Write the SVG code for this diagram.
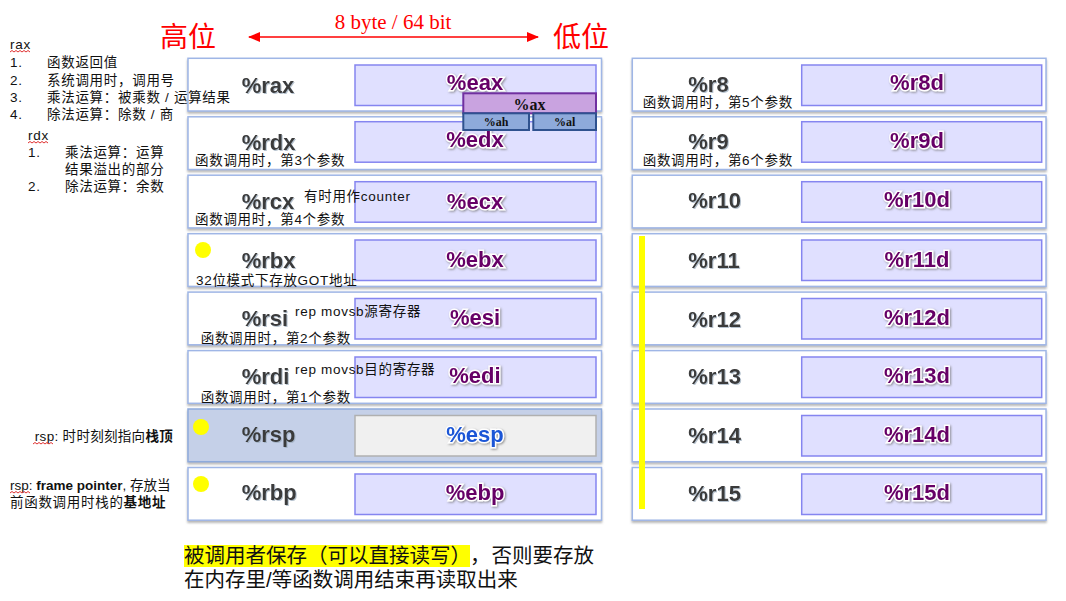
<svg xmlns="http://www.w3.org/2000/svg" width="1066" height="601" viewBox="0 0 1066 601">
<defs>
<filter id="sh" x="-5%" y="-20%" width="110%" height="150%"><feDropShadow dx="0" dy="2" stdDeviation="1" flood-color="#888" flood-opacity="0.6"/></filter>
<filter id="tsh" x="-10%" y="-20%" width="130%" height="160%"><feDropShadow dx="1" dy="1" stdDeviation="0.8" flood-color="#777" flood-opacity="0.8"/></filter>
<filter id="lsh" x="-10%" y="-20%" width="130%" height="160%"><feDropShadow dx="1" dy="1" stdDeviation="0.5" flood-color="#9ab" flood-opacity="0.7"/></filter>
<marker id="ah" viewBox="0 0 12 10" refX="11" refY="5" markerWidth="12" markerHeight="10" markerUnits="userSpaceOnUse" orient="auto-start-reverse"><path d="M0,0 L12,5 L0,10 Z" fill="#ff0000"/></marker>
<style>
.row{fill:#fff;stroke:#9fb6e6;stroke-width:1.5;filter:url(#sh)}
.rowsp{fill:#c5d0e8;stroke:#8eaadb;stroke-width:1.5;filter:url(#sh)}
.inner{fill:#e0e0ff;stroke:#8585f0;stroke-width:1.5}
.innersp{fill:#f0f0f0;stroke:#b0b0b0;stroke-width:1.5}
.reg{font-family:"Liberation Sans",Arial,sans-serif;font-weight:bold;font-size:22px;fill:#3a3a3a;filter:url(#lsh)}
.sub{font-family:"Liberation Sans",Arial,sans-serif;font-weight:bold;font-size:22px;fill:#660066;stroke:#fff;stroke-width:3;paint-order:stroke;text-anchor:middle;filter:url(#tsh)}
.note{font-family:"Liberation Sans","Noto Sans CJK SC",sans-serif;font-size:13.5px;fill:#111;letter-spacing:0.7px}
.red{fill:#ff0000}
.dot{fill:#ffff00}
.sq{fill:none;stroke:#e03030;stroke-width:1}
.big{font-family:"Liberation Sans","Noto Sans CJK SC",sans-serif;font-size:20.5px;fill:#111}
</style>
</defs>

<g id="header">
<text x="160" y="47" class="red" style="font-family:'Noto Sans CJK SC',sans-serif;font-size:28px">高位</text>
<text x="553" y="47" class="red" style="font-family:'Noto Sans CJK SC',sans-serif;font-size:28px">低位</text>
<text x="393" y="29" class="red" text-anchor="middle" style="font-family:'Liberation Serif',serif;font-size:21px">8 byte / 64 bit</text>
</g>

<g id="connectors">
<line x1="249" y1="37" x2="538" y2="37" stroke="#ff0000" stroke-width="1.5" marker-start="url(#ah)" marker-end="url(#ah)"/>
</g>

<g id="rax"><rect class="row" x="188" y="58.3" width="413.5" height="52.7"/><rect class="inner" x="355" y="65" width="241" height="40.5"/><text class="reg" x="241.7" y="93">%rax</text><text class="sub" x="475" y="90">%eax</text></g>
<g id="rdx"><rect class="row" x="188" y="116.8" width="413.5" height="52.7"/><rect class="inner" x="355" y="121.7" width="241" height="40.5"/><text class="reg" x="241.7" y="150">%rdx</text><text class="sub" x="475" y="147">%edx</text><text class="note" x="195" y="165">函数调用时，第3个参数</text></g>
<g id="rcx"><rect class="row" x="188" y="175.2" width="413.5" height="52.7"/><rect class="inner" x="355" y="181.7" width="241" height="40.5"/><text class="reg" x="241.7" y="209">%rcx</text><text class="sub" x="475" y="209">%ecx</text><text class="note" x="304" y="201">有时用作counter</text><text class="note" x="195" y="224">函数调用时，第4个参数</text></g>
<g id="rbx"><rect class="row" x="188" y="233.7" width="413.5" height="52.7"/><rect class="inner" x="355" y="240" width="241" height="40.5"/><circle class="dot" cx="203" cy="250" r="8"/><text class="reg" x="241.7" y="268">%rbx</text><text class="sub" x="475" y="267">%ebx</text><text class="note" x="196" y="285">32位模式下存放GOT地址</text></g>
<g id="rsi"><rect class="row" x="188" y="292.1" width="413.5" height="52.7"/><rect class="inner" x="355" y="298.5" width="241" height="40.5"/><text class="reg" x="241.7" y="326">%rsi</text><text class="sub" x="475" y="325">%esi</text><text class="note" x="295" y="316">rep movsb源寄存器</text><text class="note" x="200.7" y="343">函数调用时，第2个参数</text></g>
<g id="rdi"><rect class="row" x="188" y="350.6" width="413.5" height="52.7"/><rect class="inner" x="355" y="357" width="241" height="40.5"/><text class="reg" x="241.7" y="384">%rdi</text><text class="sub" x="475" y="383">%edi</text><text class="note" x="295" y="374">rep movsb目的寄存器</text><text class="note" x="200.7" y="402">函数调用时，第1个参数</text></g>
<g id="rsp"><rect class="rowsp" x="188" y="409" width="413.5" height="52.7"/><rect class="innersp" x="355" y="415.5" width="241" height="40.5"/><circle class="dot" cx="201" cy="427" r="8"/><text class="reg" x="241.7" y="442">%rsp</text><text class="sub" x="475" y="442" style="fill:#1a56d6">%esp</text></g>
<g id="rbp"><rect class="row" x="188" y="467.5" width="413.5" height="52.7"/><rect class="inner" x="355" y="474" width="241" height="40.5"/><circle class="dot" cx="201" cy="484" r="8"/><text class="reg" x="241.7" y="500">%rbp</text><text class="sub" x="475" y="500">%ebp</text></g>

<g id="ax">
<rect x="463.3" y="93.3" width="132.7" height="20" fill="#c9a3e0" stroke="#7030a0" stroke-width="2"/>
<text x="529.6" y="110" text-anchor="middle" style="font-family:'Liberation Serif',serif;font-weight:bold;font-size:16px;fill:#111">%ax</text>
</g>
<g id="ah-reg">
<rect x="463.3" y="113.3" width="65.7" height="16.7" fill="#8eaadb" stroke="#2f528f" stroke-width="2"/>
<text x="496" y="126" text-anchor="middle" style="font-family:'Liberation Serif',serif;font-weight:bold;font-size:12px;fill:#111">%ah</text>
</g>
<g id="al-reg">
<rect x="533.3" y="113.3" width="62.7" height="16.7" fill="#8eaadb" stroke="#2f528f" stroke-width="2"/>
<text x="564.6" y="126" text-anchor="middle" style="font-family:'Liberation Serif',serif;font-weight:bold;font-size:12px;fill:#111">%al</text>
</g>

<g id="r8"><rect class="row" x="632.3" y="58.3" width="413.7" height="52.7"/><rect class="inner" x="801.7" y="65" width="240" height="40.5"/><text class="reg" x="688.3" y="91.5">%r8</text><text class="sub" x="917" y="90">%r8d</text><text class="note" x="642.7" y="107">函数调用时，第5个参数</text></g>
<g id="r9"><rect class="row" x="632.3" y="116.8" width="413.7" height="52.7"/><rect class="inner" x="801.7" y="121.7" width="240" height="40.5"/><text class="reg" x="688.3" y="149">%r9</text><text class="sub" x="917" y="148">%r9d</text><text class="note" x="642.7" y="164.5">函数调用时，第6个参数</text></g>
<g id="r10"><rect class="row" x="632.3" y="175.2" width="413.7" height="52.7"/><rect class="inner" x="801.7" y="181.7" width="240" height="40.5"/><text class="reg" x="688.3" y="208">%r10</text><text class="sub" x="917" y="207">%r10d</text></g>
<g id="r11"><rect class="row" x="632.3" y="233.7" width="413.7" height="52.7"/><rect class="inner" x="801.7" y="240" width="240" height="40.5"/><text class="reg" x="688.3" y="268">%r11</text><text class="sub" x="917" y="267">%r11d</text></g>
<g id="r12"><rect class="row" x="632.3" y="292.1" width="413.7" height="52.7"/><rect class="inner" x="801.7" y="298.5" width="240" height="40.5"/><text class="reg" x="688.3" y="326.5">%r12</text><text class="sub" x="917" y="325">%r12d</text></g>
<g id="r13"><rect class="row" x="632.3" y="350.6" width="413.7" height="52.7"/><rect class="inner" x="801.7" y="357" width="240" height="40.5"/><text class="reg" x="688.3" y="384">%r13</text><text class="sub" x="917" y="383">%r13d</text></g>
<g id="r14"><rect class="row" x="632.3" y="409" width="413.7" height="52.7"/><rect class="inner" x="801.7" y="415.5" width="240" height="40.5"/><text class="reg" x="688.3" y="442.5">%r14</text><text class="sub" x="917" y="442">%r14d</text></g>
<g id="r15"><rect class="row" x="632.3" y="467.5" width="413.7" height="52.7"/><rect class="inner" x="801.7" y="474" width="240" height="40.5"/><text class="reg" x="688.3" y="500.5">%r15</text><text class="sub" x="917" y="500">%r15d</text></g>

<g id="callee-bar"><rect x="639" y="236" width="6" height="273" fill="#ffff00"/></g>

<g id="left-notes">
<text x="10" y="49" class="note">rax</text>
<path class="sq" d="M10,52 l2,-1.5 l2,1.5 l2,-1.5 l2,1.5 l2,-1.5 l2,1.5 l2,-1.5 l2,1.5 l2,-1.5 l2,1.5"/>
<text x="10" y="67" class="note">1.</text><text x="47" y="67" class="note">函数返回值</text>
<text x="10" y="85" class="note">2.</text><text x="47" y="85" class="note">系统调用时，调用号</text>
<text x="10" y="102" class="note">3.</text><text x="47" y="102" class="note">乘法运算：被乘数 / 运算结果</text>
<text x="10" y="119" class="note">4.</text><text x="47" y="119" class="note">除法运算：除数 / 商</text>
<text x="28" y="140" class="note">rdx</text>
<path class="sq" d="M28,143 l2,-1.5 l2,1.5 l2,-1.5 l2,1.5 l2,-1.5 l2,1.5 l2,-1.5 l2,1.5 l2,-1.5 l2,1.5"/>
<text x="28" y="157" class="note">1.</text><text x="65" y="157" class="note">乘法运算：运算</text>
<text x="65" y="174" class="note">结果溢出的部分</text>
<text x="28" y="191" class="note">2.</text><text x="65" y="191" class="note">除法运算：余数</text>
<text x="173" y="441" class="note" text-anchor="end" style="letter-spacing:0.3px">rsp: 时时刻刻指向<tspan font-weight="bold">栈顶</tspan></text>
<path class="sq" d="M33,444 l2,-1.5 l2,1.5 l2,-1.5 l2,1.5 l2,-1.5 l2,1.5 l2,-1.5 l2,1.5 l2,-1.5 l2,1.5"/>
<text x="10" y="490" class="note" style="letter-spacing:0px">rsp: <tspan font-weight="bold">frame pointer</tspan>, 存放当</text>
<path class="sq" d="M10,493 l2,-1.5 l2,1.5 l2,-1.5 l2,1.5 l2,-1.5 l2,1.5 l2,-1.5 l2,1.5 l2,-1.5 l2,1.5"/>
<text x="10" y="507" class="note">前函数调用时栈的<tspan font-weight="bold">基地址</tspan></text>
</g>

<g id="bottom-note">
<rect x="184" y="545" width="286" height="22" fill="#ffff00"/>
<text x="184" y="563" class="big">被调用者保存（可以直接读写）<tspan x="470">，</tspan><tspan x="491.5">否则要存放</tspan></text>
<text x="184" y="587" class="big">在内存里/等函数调用结束再读取出来</text>
</g>
</svg>
